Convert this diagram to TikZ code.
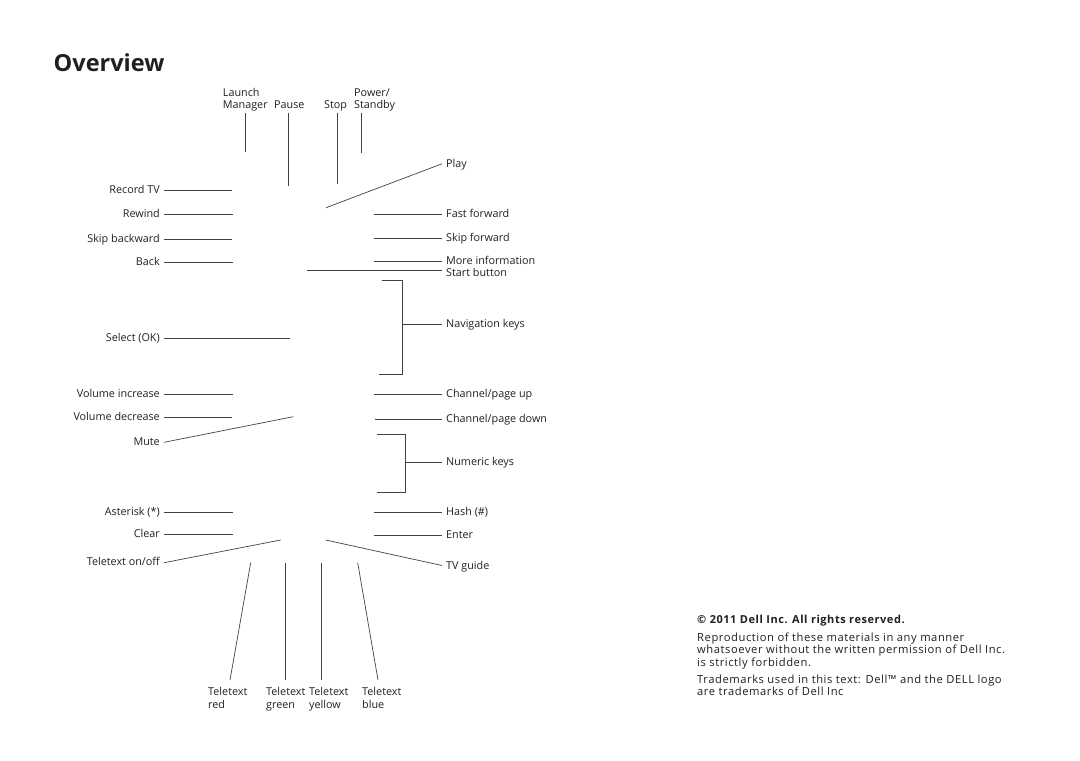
\documentclass[tikz,border=0pt]{standalone}
\usepackage{fontspec}
\setmainfont{Open Sans}
\newfontfamily\notefont{Open Sans}[LetterSpace=5]
\usetikzlibrary{positioning}
\definecolor{ink}{HTML}{231F20}

\tikzset{
  lbl/.style={font=\fontsize{10.8}{12.7}\selectfont, text=ink, inner sep=0pt},
  lft/.style={lbl, anchor=east, inner xsep=4pt, text height=7.5pt, text depth=1.5pt},
  rgt/.style={lbl, anchor=west, inner xsep=4pt, text height=7.5pt, text depth=0.5pt},
  toplbl/.style={lbl, anchor=south west, align=left},
  botlbl/.style={lbl, anchor=north west, align=left, outer ysep=7pt},
  note/.style={lbl, anchor=north west, align=left, font=\notefont\fontsize{11.2}{12.5}\selectfont},
  lead/.style={draw=ink!85, line width=0.7pt},
}

\begin{document}
\begin{tikzpicture}[x=1pt,y=-1pt]
  \fill[white] (0,0) rectangle (1080,761);
  \useasboundingbox (0,0) rectangle (1080,761);

  \node[lbl, anchor=base west, font=\fontsize{23.5}{28}\selectfont\bfseries] (title) at (53.5,71) {Overview};

  \node[toplbl] (lm) at (222.7,113) {Launch\\Manager\strut};
  \node[toplbl] (pause) at (274,113) {Pause\strut};
  \node[toplbl] (stop) at (324,113) {Stop\strut};
  \node[toplbl] (pwr) at (354,113) {Power/\\Standby\strut};
  \coordinate (lm-e) at (245.3,152);
  \coordinate (pause-e) at (288.7,186);
  \coordinate (stop-e) at (337.7,184.3);
  \coordinate (pwr-e) at (361.3,152.7);
  \draw[lead] (lm.south -| lm-e) -- (lm-e);
  \draw[lead] (pause.south -| pause-e) -- (pause-e);
  \draw[lead] (stop.south -| stop-e) -- (stop-e);
  \draw[lead] (pwr.south -| pwr-e) -- (pwr-e);

  \node[lft] (rec) at (164,190) {Record TV};
  \node[lft] (rew) at (164,214) {Rewind};
  \node[lft] (skb) at (164,239.3) {Skip backward};
  \node[lft] (back) at (164,262.7) {Back};
  \node[lft] (sel) at (164,338) {Select (OK)};
  \node[lft] (vinc) at (164,394.7) {Volume increase};
  \node[lft] (vdec) at (164,417.7) {Volume decrease};
  \node[lft] (mute) at (164,442.3) {Mute};
  \node[lft] (ast) at (164,512.3) {Asterisk (*)};
  \node[lft] (clr) at (164,534.3) {Clear};
  \node[lft] (tton) at (164,562.7) {Teletext on/off};
  \coordinate (rec-e) at (232,190);
  \coordinate (rew-e) at (233,214);
  \coordinate (skb-e) at (232,239.3);
  \coordinate (back-e) at (233,262.7);
  \coordinate (sel-e) at (290,338);
  \coordinate (vinc-e) at (233,394.7);
  \coordinate (vdec-e) at (232,417.7);
  \coordinate (mute-e) at (293.3,416.7);
  \coordinate (ast-e) at (233,512.3);
  \coordinate (clr-e) at (233,534.3);
  \coordinate (tton-e) at (280.7,540);
  \draw[lead] (rec) -- (rec-e);
  \draw[lead] (rew) -- (rew-e);
  \draw[lead] (skb) -- (skb-e);
  \draw[lead] (back) -- (back-e);
  \draw[lead] (sel) -- (sel-e);
  \draw[lead] (vinc) -- (vinc-e);
  \draw[lead] (vdec) -- (vdec-e);
  \draw[lead] (mute.east) -- (mute-e);
  \draw[lead] (ast) -- (ast-e);
  \draw[lead] (clr) -- (clr-e);
  \draw[lead] (tton.east) -- (tton-e);

  \node[rgt] (play) at (442,163.8) {Play};
  \node[rgt] (ff) at (442,214) {Fast forward};
  \node[rgt] (sf) at (442,238.3) {Skip forward};
  \node[rgt] (mi) at (442,260.5) {More information};
  \node[rgt] (sb) at (442,273.2) {Start button};
  \node[rgt] (nav) at (442,324) {Navigation keys};
  \node[rgt] (cpu) at (442,394.3) {Channel/page up};
  \node[rgt] (cpd) at (442,419.3) {Channel/page down};
  \node[rgt] (num) at (442,462.3) {Numeric keys};
  \node[rgt] (hash) at (442,512.3) {Hash (\#)};
  \node[rgt] (ent) at (442,535) {Enter};
  \node[rgt] (tvg) at (442,565.5) {TV guide};
  \coordinate (play-s) at (326,207.7);
  \coordinate (ff-s) at (374,214);
  \coordinate (sf-s) at (374,238.3);
  \coordinate (mi-s) at (374,261);
  \coordinate (sb-s) at (307.3,270.7);
  \coordinate (cpu-s) at (374,394.3);
  \coordinate (cpd-s) at (375,419.3);
  \coordinate (hash-s) at (374,512.3);
  \coordinate (ent-s) at (374,535);
  \coordinate (tvg-s) at (325.7,540);
  \draw[lead] (play-s) -- (play.west);
  \draw[lead] (ff-s) -- (ff-s -| ff.west);
  \draw[lead] (sf-s) -- (sf-s -| sf.west);
  \draw[lead] (mi-s) -- (mi-s -| mi.west);
  \draw[lead] (sb-s) -- (sb-s -| sb.west);
  \draw[lead] (cpu-s) -- (cpu-s -| cpu.west);
  \draw[lead] (cpd-s) -- (cpd-s -| cpd.west);
  \draw[lead] (hash-s) -- (hash-s -| hash.west);
  \draw[lead] (ent-s) -- (ent-s -| ent.west);
  \draw[lead] (tvg-s) -- (tvg.west);

  \coordinate (nav-t) at (381.7,280.7);
  \coordinate (nav-c) at (402.7,324);
  \coordinate (nav-b) at (379,374.3);
  \draw[lead] (nav-t) -| (nav-c) |- (nav-b);
  \draw[lead] (nav-c) -- (nav);
  \coordinate (num-t) at (377,434);
  \coordinate (num-c) at (405.7,462.3);
  \coordinate (num-b) at (377,492.3);
  \draw[lead] (num-t) -| (num-c) |- (num-b);
  \draw[lead] (num-c) -- (num);

  \node[botlbl] (tr) at (208,680) {\strut Teletext\\red};
  \node[botlbl] (tg) at (266,680) {\strut Teletext\\green};
  \node[botlbl] (ty) at (309,680) {\strut Teletext\\yellow};
  \node[botlbl] (tb) at (362,680) {\strut Teletext\\blue};
  \coordinate (tr-t) at (250.7,562.7);
  \coordinate (tg-t) at (285.3,562.7);
  \coordinate (ty-t) at (321.7,562.7);
  \coordinate (tb-t) at (357.7,562.7);
  \coordinate (tr-b) at (230,680);
  \coordinate (tb-b) at (378,680);
  \draw[lead] (tr-t) -- (tr-b |- tr.north);
  \draw[lead] (tg-t) -- (tg-t |- tg.north);
  \draw[lead] (ty-t) -- (ty-t |- ty.north);
  \draw[lead] (tb-t) -- (tb-b |- tb.north);

  \node[note, anchor=base west, font=\notefont\fontsize{11}{12.5}\selectfont\bfseries] (copy) at (697,623) {© 2011 Dell Inc. All rights reserved.};
  \node[note] (repro) at (697,632.25) {\strut Reproduction of these materials in any manner\\whatsoever without the written permission of Dell Inc.\\is strictly forbidden.};
  \node[note] (tm) at (697,674.25) {\strut Trademarks used in this text: Dell™ and the DELL logo\\are trademarks of Dell Inc};
\end{tikzpicture}
\end{document}
